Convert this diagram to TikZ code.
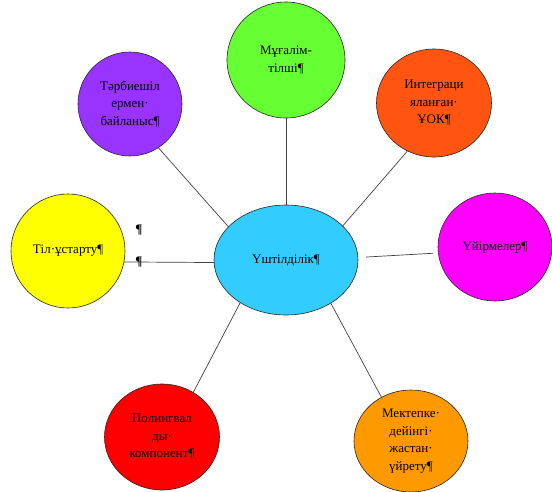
\documentclass[tikz,border=0pt]{standalone}
\usepackage{fontspec}
\setmainfont{Liberation Serif}
\usetikzlibrary{shapes.geometric}
\definecolor{cPurple}{HTML}{9933FF}
\definecolor{cGreen}{HTML}{66FF33}
\definecolor{cOrRed}{HTML}{FF5511}
\definecolor{cYellow}{HTML}{FFFF00}
\definecolor{cCyan}{HTML}{33CCFF}
\definecolor{cMagenta}{HTML}{FF00FF}
\definecolor{cRed}{HTML}{FF0000}
\definecolor{cOrange}{HTML}{FF9900}
\begin{document}
\begin{tikzpicture}[x=1pt,y=-1pt,
  bubble/.style={ellipse, draw=black!85, line width=0.6pt, inner sep=0pt, align=center,
    font=\fontsize{13}{17.5}\selectfont, text=black},
  link/.style={draw=black!75, line width=0.7pt},
  pil/.style={inner sep=0pt, font=\fontsize{13}{15}\selectfont\bfseries}]
\useasboundingbox (0,0) rectangle (552,491);
\node[bubble, fill=cCyan, minimum width=144pt, minimum height=110pt] (c) at (286,260) {Үштілділік¶};
\node[bubble, fill=cGreen, minimum width=118pt, minimum height=116pt] (green) at (286,60) {Мұғалім-\\тілші¶};
\node[bubble, fill=cOrRed, minimum width=115pt, minimum height=108pt] (orred) at (434,103) {Интеграци\\яланған·\\ҰОК¶};
\node[bubble, fill=cPurple, minimum width=104pt, minimum height=104pt] (purple) at (130,104) {Тәрбиешіл\\ермен·\\байланыс¶};
\node[bubble, fill=cYellow, minimum width=114pt, minimum height=114pt] (yellow) at (68,251) {Тіл·ұстарту¶};
\node[bubble, fill=cMagenta, minimum width=114pt, minimum height=108pt] (magenta) at (495,247) {Үйірмелер¶};
\node[bubble, fill=cRed, minimum width=115pt, minimum height=106pt] (red) at (162,437) {Полингвал\\ды·\\компонент¶};
\node[bubble, fill=cOrange, minimum width=114pt, minimum height=102pt] (orange) at (411,441) {Мектепке·\\дейінгі·\\жастан·\\үйрету¶};
\draw[link] (purple.-57) -- (c.150);
\draw[link] (green.-90) -- (c.90);
\draw[link] (orred.-119) -- (c.31);
\draw[link, shorten <=8pt, shorten >=5pt] (c.2) -- (magenta.186);
\draw[link] (yellow.-11) -- (c.182);
\draw[link] (red.55) -- (c.223);
\draw[link] (orange.124) -- (c.316);
\node[pil] (p1) at (139,230) {¶};
\node[pil] (p2) at (139,262) {¶};
\end{tikzpicture}
\end{document}
